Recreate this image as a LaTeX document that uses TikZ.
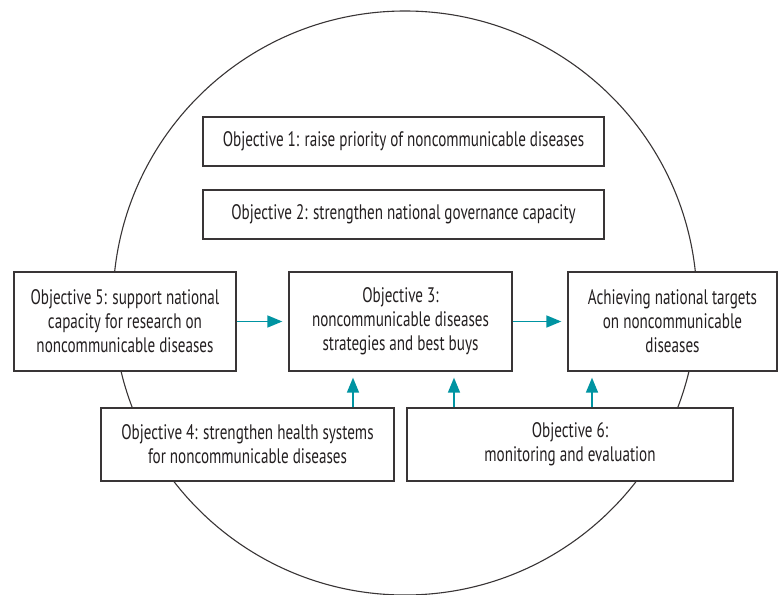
\documentclass[tikz,border=0pt]{standalone}
\usepackage{fontspec}
\setmainfont[FakeStretch=0.72]{PT Sans}
\usetikzlibrary{arrows.meta,calc}
\definecolor{teal1}{RGB}{0,148,162}
\definecolor{ink}{RGB}{35,31,32}
\begin{document}
\begin{tikzpicture}[x=1pt,y=-1pt,
  box/.style={draw=ink!90,line width=1.3pt,fill=white,inner sep=0pt,
    align=center,text=ink,font=\fontsize{21}{24}\selectfont},
  arr/.style={draw=teal1,line width=1.6pt,-{Triangle[length=15pt,width=12pt]},shorten >=6pt}]
\useasboundingbox (0,0) rectangle (778,594);
\fill[white] (0,0) rectangle (778,594);
\draw[ink!90,line width=1.1pt] (405,303) circle[radius=292];
\node[box,minimum width=401,minimum height=49] (b1) at (403.5,141.5)
  {Objective 1: raise priority of noncommunicable diseases};
\node[box,minimum width=401,minimum height=49] (b2) at (403.5,214.5)
  {Objective 2: strengthen national governance capacity};
\node[box,minimum width=222,minimum height=99] (b5) at (125,321.5)
  {Objective 5: support national\\capacity for research on\\noncommunicable diseases};
\node[box,minimum width=223,minimum height=99] (b3) at (400.5,321.5)
  {Objective 3:\\noncommunicable diseases\\strategies and best buys};
\node[box,minimum width=209,minimum height=99] (bt) at (672.5,321.5)
  {Achieving national targets\\on noncommunicable\\diseases};
\node[box,minimum width=293,minimum height=73] (b4) at (247.5,444.5)
  {Objective 4: strengthen health systems\\for noncommunicable diseases};
\node[box,minimum width=326,minimum height=73] (b6) at (570,444.5)
  {Objective 6:\\monitoring and evaluation};
\coordinate (xa) at (353,0);
\coordinate (xb) at (454,0);
\coordinate (xc) at (592,0);
\draw[arr] (b5.east) -- (b3.west);
\draw[arr] (b3.east) -- (bt.west);
\draw[arr] (b4.north -| xa) -- (b3.south -| xa);
\draw[arr] (b6.north -| xb) -- (b3.south -| xb);
\draw[arr] (b6.north -| xc) -- (bt.south -| xc);
\end{tikzpicture}
\end{document}
